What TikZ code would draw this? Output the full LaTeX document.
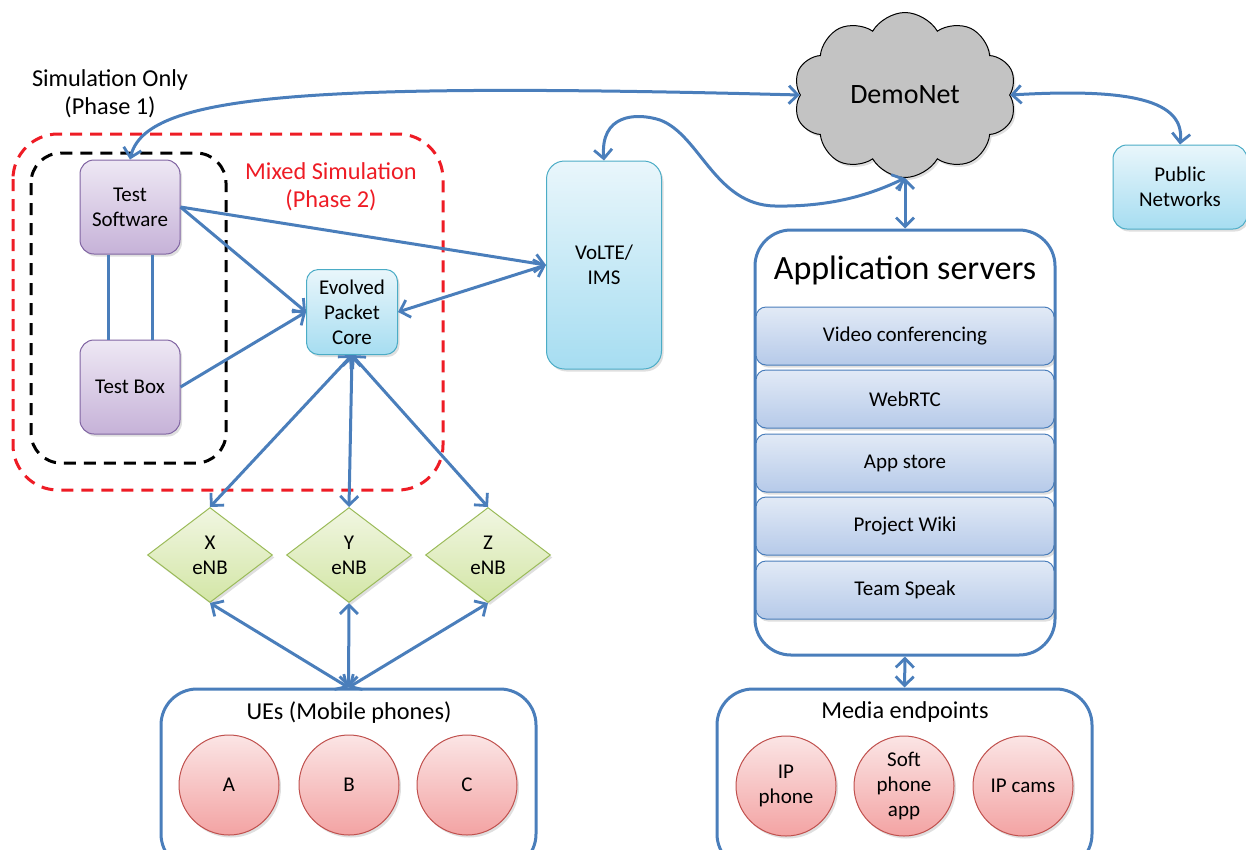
\documentclass[tikz,border=0pt]{standalone}
\usepackage{fontspec}
\setmainfont{Carlito}
\usetikzlibrary{arrows.meta,shapes.geometric,shapes.symbols,shadows}
\definecolor{lineblue}{HTML}{4A7EBB}
\definecolor{purpleborder}{HTML}{8064A2}
\definecolor{purpletop}{HTML}{EEE8F4}
\definecolor{purplebot}{HTML}{C6B2D8}
\definecolor{cyanborder}{HTML}{4BACC6}
\definecolor{cyantop}{HTML}{E9F6FB}
\definecolor{cyanbot}{HTML}{A6DDF1}
\definecolor{greenborder}{HTML}{9BBB59}
\definecolor{greentop}{HTML}{F1F6E2}
\definecolor{greenbot}{HTML}{D3E6A6}
\definecolor{redborder}{HTML}{C0504D}
\definecolor{redtop}{HTML}{FBE5E5}
\definecolor{redbot}{HTML}{F3A3A3}
\definecolor{bartop}{HTML}{E2EAF6}
\definecolor{barbot}{HTML}{B6CAE9}
\definecolor{cloudgray}{HTML}{C3C3C3}
\definecolor{dashred}{HTML}{EE1C25}
\newcommand\fsnorm{\fontsize{21}{25}\selectfont}
\newcommand\fslab{\fontsize{24.3}{28}\selectfont}
\newcommand\fsbig{\fontsize{34}{38}\selectfont}
\newcommand\fscloud{\fontsize{28}{32}\selectfont}
\tikzset{
  conn/.style={draw=lineblue, line width=3pt},
  tipstyle/.tip={Straight Barb[length=9pt,width=18pt,line width=2.8pt]},
  biarrow/.style={conn, tipstyle-tipstyle},
  onearrow/.style={conn, -tipstyle},
  shad/.style={drop shadow={opacity=0.25, shadow xshift=2pt, shadow yshift=-2.5pt}},
  purplebox/.style={shad, rounded corners=14pt, draw=purpleborder, line width=1pt,
    top color=purpletop, bottom color=purplebot, minimum width=100pt, minimum height=94pt,
    align=center, font=\fsnorm, inner sep=2pt},
  cyanbox/.style={shad, rounded corners=12pt, draw=cyanborder, line width=1pt,
    top color=cyantop, bottom color=cyanbot, align=center, font=\fsnorm, inner sep=2pt},
  enb/.style={diamond, draw=greenborder, line width=1pt, top color=greentop, bottom color=greenbot,
    minimum width=125pt, minimum height=95pt, inner sep=0pt, align=center, font=\fsnorm, shad},
  ecircle/.style={circle, draw=redborder, line width=1pt, top color=redtop, bottom color=redbot,
    minimum size=100pt, inner sep=0pt, align=center, font=\fsnorm, shad},
  container/.style={draw=lineblue, line width=3pt, rounded corners=36pt, fill=white},
  bar/.style={draw=lineblue, line width=1pt, rounded corners=10pt, top color=bartop, bottom color=barbot,
    minimum width=298pt, minimum height=58pt, font=\fsnorm, shad},
  groupdash/.style={line width=3pt, dash pattern=on 12pt off 8pt},
}
\begin{document}
\begin{tikzpicture}[x=1pt,y=-1pt]
\useasboundingbox (0,0) rectangle (1246,849);
\clip (0,0) rectangle (1246,849);

% dashed groups
\draw[groupdash, draw=dashred, rounded corners=45pt] (13,134) rectangle (443,490);
\draw[groupdash, draw=black, rounded corners=30pt] (31,153) rectangle (226,463);
\node[font=\fslab, align=center] (simonly) at (110,94) {Simulation Only\\(Phase 1)};
\node[font=\fslab, align=center, text=dashred] (mixed) at (331,187) {Mixed Simulation\\(Phase 2)};

% containers
\node[container, minimum width=300pt, minimum height=425pt] (apps) at (905,442.5) {};
\node[font=\fsbig] (appstitle) at (905,270) {Application servers};
\node[bar] (b1) at (905,336) {Video conferencing};
\node[bar] (b2) at (905,399) {WebRTC};
\node[bar] (b3) at (905,463) {App store};
\node[bar] (b4) at (905,526) {Project Wiki};
\node[bar] (b5) at (905,590) {Team Speak};

\node[container, minimum width=375pt, minimum height=181pt] (ue) at (348.5,779.5) {};
\node[font=\fslab] (uetitle) at (349,713) {UEs (Mobile phones)};
\node[ecircle] (ca) at (229,785) {A};
\node[ecircle] (cb) at (349,785) {B};
\node[ecircle] (cc) at (467,785) {C};

\node[container, minimum width=375pt, minimum height=181pt] (media) at (904.5,779.5) {};
\node[font=\fslab] (mediatitle) at (905,712) {Media endpoints};
\node[ecircle] (ipp) at (786,786) {IP\\phone};
\node[ecircle] (soft) at (904,786) {Soft\\phone\\app};
\node[ecircle] (cams) at (1023,786) {IP cams};

% main nodes
\node[purplebox] (ts) at (130,207) {Test\\Software};
\node[purplebox] (tb) at (130,387) {Test Box};
\node[cyanbox, minimum width=91pt, minimum height=85pt] (epc) at (352,312) {Evolved\\Packet\\Core};
\node[cyanbox, rounded corners=18pt, minimum width=115pt, minimum height=208pt] (volte) at (604,265) {VoLTE/\\IMS};
\node[cyanbox, rounded corners=14pt, minimum width=134pt, minimum height=84pt] (pn) at (1180,187) {Public\\Networks};
\node[cloud, cloud puffs=10, cloud puff arc=120, cloud ignores aspect, draw=black, line width=1pt,
  fill=cloudgray, minimum width=223pt, minimum height=165pt, font=\fscloud, shad] (dn) at (905,95) {DemoNet};

\node[enb] (x) at (210,555) {X\\eNB};
\node[enb] (y) at (349,555) {Y\\eNB};
\node[enb] (z) at (488,555) {Z\\eNB};

% connectors
\draw[conn] ([xshift=-22pt]ts.south) -- ([xshift=-22pt]tb.north);
\draw[conn] ([xshift=22pt]ts.south) -- ([xshift=22pt]tb.north);
\draw[onearrow] (ts.east) -- (epc.west);
\draw[onearrow] (tb.east) -- (epc.west);
\draw[onearrow] (ts.east) -- (volte.west);
\draw[biarrow] (epc.east) -- (volte.west);
\draw[biarrow] (epc.south) -- (x.north);
\draw[biarrow] (epc.south) -- (y.north);
\draw[biarrow] (epc.south) -- (z.north);
\draw[biarrow] (x.south) -- (ue.north);
\draw[biarrow] (y.south) -- (ue.north);
\draw[biarrow] (z.south) -- (ue.north);
\draw[biarrow] (dn.west) .. controls (300,82) and (145,95) .. (ts.north);
\draw[biarrow] (volte.north) .. controls (600,115) and (635,112) .. (660,120)
  .. controls (700,135) and (715,205) .. (775,206)
  .. controls (830,207) and (870,195) .. (dn.south);
\draw[biarrow] (dn.south) -- (apps.north);
\draw[biarrow] (dn.east) .. controls (1130,88) and (1185,100) .. (pn.north);
\draw[biarrow] (apps.south) -- (media.north);
\end{tikzpicture}
\end{document}
